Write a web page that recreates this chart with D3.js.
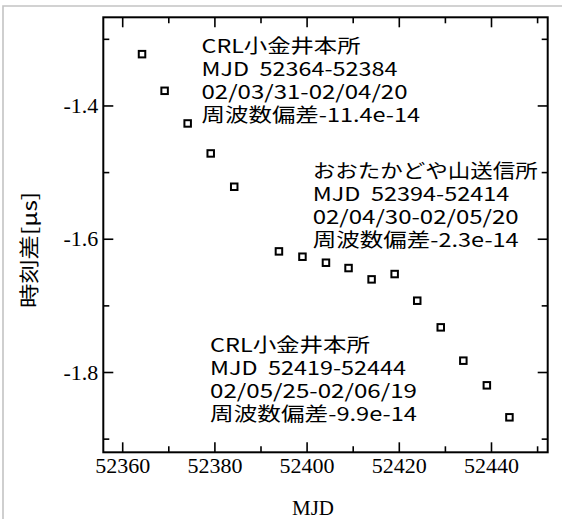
<!DOCTYPE html>
<html>
<head>
<meta charset="utf-8">
<script src="https://cdn.jsdelivr.net/npm/d3@7"></script>
<style>
	body { margin: 0; background: #fff; }
</style>
</head>
<body>
<div id="chart"></div>
<script>
// time difference vs MJD
const mjd = [
	52364.3, 52369.2, 52374.2, 52379.2, 52384.3,
	52394.0, 52399.1, 52404.2, 52409.1, 52414.1, 52419.1,
	52424.0, 52429.1, 52434.0, 52439.1, 52444.0,
];
const timeDiff = [
	-1.323, -1.378, -1.427, -1.472, -1.522,
	-1.619, -1.627, -1.636, -1.644, -1.661, -1.653,
	-1.693, -1.733, -1.783, -1.820, -1.868,
];

const xMajorTicks = [52360, 52380, 52400, 52420, 52440];
const xMinorTicks = [52370, 52390, 52410, 52430, 52450];
const yMajorTicks = [-1.4, -1.6, -1.8];
const yMinorTicks = [-1.3, -1.5, -1.7, -1.9];

const block1 = ["CRL小金井本所", "MJD  52364-52384", "02/03/31-02/04/20", "周波数偏差-11.4e-14"];
const block2 = ["おおたかどや山送信所", "MJD  52394-52414", "02/04/30-02/05/20", "周波数偏差-2.3e-14"];
const block3 = ["CRL小金井本所", "MJD  52419-52444", "02/05/25-02/06/19", "周波数偏差-9.9e-14"];

const xTitle = "MJD";
const yTitle = "時刻差[μs]";

const width = 562;
const height = 519;
const plot = { left: 103.3, right: 547.7, top: 17.3, bottom: 452.3 };

const svg = d3
	.select("#chart")
	.append("svg")
	.attr("width", width)
	.attr("height", height);

// light scan border, only top and left survived the crop
svg.append("path")
	.attr("d", `M3,${height} L3,6 L${width},6`)
	.attr("fill", "none")
	.attr("stroke", "#c4c4c4")
	.attr("stroke-width", 1.6);

const x = d3.scaleLinear().domain([52355.9, 52452.3]).range([plot.left, plot.right]);
const y = d3.scaleLinear().domain([-1.2677, -1.9205]).range([plot.top, plot.bottom]);

const serif = "Liberation Serif";
const gothic = "Noto Sans CJK JP";

function styleAxis(g) {
	g.attr("font-family", serif).attr("font-size", 22);
	g.select(".domain").remove();
	g.selectAll(".tick line").attr("stroke", "#000").attr("stroke-width", 1.6);
	g.selectAll(".tick text")
		.attr("fill", "#000")
		.attr("font-family", serif)
		.attr("font-size", 22)
		.text(function () {
			// ascii hyphen for negatives like the original
			return d3.select(this).text().replace("−", "-");
		});
}

// bottom, with labels
svg.append("g")
	.attr("transform", `translate(0,${plot.bottom})`)
	.call(d3.axisBottom(x).tickValues(xMajorTicks).tickSize(-10).tickPadding(5).tickFormat(d3.format("d")))
	.call(styleAxis);
svg.append("g")
	.attr("transform", `translate(0,${plot.bottom})`)
	.call(d3.axisBottom(x).tickValues(xMinorTicks).tickSize(-6).tickFormat(""))
	.call(styleAxis);

// top
svg.append("g")
	.attr("transform", `translate(0,${plot.top})`)
	.call(d3.axisTop(x).tickValues(xMajorTicks).tickSize(-10).tickFormat(""))
	.call(styleAxis);
svg.append("g")
	.attr("transform", `translate(0,${plot.top})`)
	.call(d3.axisTop(x).tickValues(xMinorTicks).tickSize(-6).tickFormat(""))
	.call(styleAxis);

// left, with labels
svg.append("g")
	.attr("transform", `translate(${plot.left},0)`)
	.call(d3.axisLeft(y).tickValues(yMajorTicks).tickSize(-10).tickPadding(5).tickFormat(d3.format(".1f")))
	.call(styleAxis);
svg.append("g")
	.attr("transform", `translate(${plot.left},0)`)
	.call(d3.axisLeft(y).tickValues(yMinorTicks).tickSize(-6).tickFormat(""))
	.call(styleAxis);

// right
svg.append("g")
	.attr("transform", `translate(${plot.right},0)`)
	.call(d3.axisRight(y).tickValues(yMajorTicks).tickSize(-10).tickFormat(""))
	.call(styleAxis);
svg.append("g")
	.attr("transform", `translate(${plot.right},0)`)
	.call(d3.axisRight(y).tickValues(yMinorTicks).tickSize(-6).tickFormat(""))
	.call(styleAxis);

svg.append("rect")
	.attr("x", plot.left)
	.attr("y", plot.top)
	.attr("width", plot.right - plot.left)
	.attr("height", plot.bottom - plot.top)
	.attr("fill", "none")
	.attr("stroke", "#000")
	.attr("stroke-width", 2);

// points
const pts = mjd.map((d, i) => ({ x: d, y: timeDiff[i] }));
svg.append("g")
	.selectAll("rect")
	.data(pts)
	.join("rect")
	.attr("x", (d) => x(d.x) - 3.25)
	.attr("y", (d) => y(d.y) - 3.25)
	.attr("width", 6.5)
	.attr("height", 6.5)
	.attr("fill", "#fff")
	.attr("stroke", "#000")
	.attr("stroke-width", 2);

// annotation blocks: left edge, first baseline, line widths
const blocks = [
	{ lines: block1, left: 201.5, top: 53, widths: [159, 196, 206, 218.5] },
	{ lines: block2, left: 312.7, top: 177.5, widths: [225, 196.6, 206, 206] },
	{ lines: block3, left: 210, top: 351.5, widths: [160, 196, 207, 207] },
];

blocks.forEach((b) => {
	svg.append("g")
		.selectAll("text")
		.data(b.lines)
		.join("text")
		.attr("x", b.left)
		.attr("y", (d, i) => b.top + i * 23)
		.attr("textLength", (d, i) => b.widths[i])
		.attr("lengthAdjust", "spacingAndGlyphs")
		.attr("xml:space", "preserve")
		.style("white-space", "pre")
		.attr("font-family", gothic)
		.attr("font-size", 19)
		.attr("fill", "#000")
		.text((d) => d);
});

// axis titles
svg.append("text")
	.attr("x", 313)
	.attr("y", 515)
	.attr("text-anchor", "middle")
	.attr("font-family", serif)
	.attr("font-size", 21)
	.text(xTitle);

svg.append("text")
	.attr("transform", "translate(30,250) rotate(-90)")
	.attr("text-anchor", "middle")
	.attr("dy", "0.35em")
	.attr("textLength", 116)
	.attr("lengthAdjust", "spacingAndGlyphs")
	.attr("font-family", gothic)
	.attr("font-size", 20)
	.text(yTitle);
</script>
</body>
</html>
